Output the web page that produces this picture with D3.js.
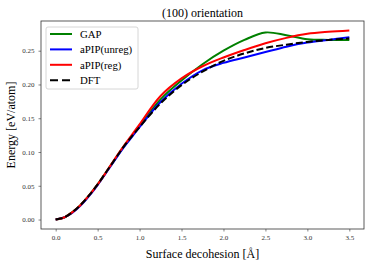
<!DOCTYPE html>
<html>
<head>
<meta charset="utf-8">
<script src="https://cdn.jsdelivr.net/npm/d3@7"></script>
<style>
  body { margin: 0; background: #fff; }
  svg text { font-family: "Liberation Serif", "DejaVu Serif", serif; }
</style>
</head>
<body>
<div id="chart"></div>
<script>
// Datos (separación en Å, energía en eV/atom)
const xs = [0, 0.1, 0.2, 0.3, 0.4, 0.5, 0.6, 0.7, 0.8, 0.9, 1.0,
            1.25, 1.5, 1.75, 2.0, 2.25, 2.5, 2.75, 3.0, 3.25, 3.5];
const gap =      [0, 0.003, 0.011, 0.022, 0.036, 0.052, 0.070, 0.088, 0.106, 0.122, 0.139,
                  0.178, 0.206, 0.230, 0.250, 0.266, 0.277, 0.273, 0.267, 0.266, 0.266];
const apipUnreg = [0, 0.003, 0.010, 0.021, 0.035, 0.051, 0.069, 0.087, 0.105, 0.121, 0.137,
                  0.174, 0.201, 0.221, 0.232, 0.240, 0.248, 0.256, 0.262, 0.266, 0.270];
const apipReg =  [0, 0.003, 0.011, 0.022, 0.036, 0.052, 0.070, 0.089, 0.107, 0.124, 0.141,
                  0.183, 0.209, 0.227, 0.240, 0.251, 0.261, 0.269, 0.275, 0.278, 0.280];
const dft =      [0, 0.003, 0.011, 0.022, 0.036, 0.052, 0.070, 0.088, 0.106, 0.122, 0.137,
                  0.172, 0.199, 0.219, 0.235, 0.246, 0.254, 0.259, 0.263, 0.266, 0.268];
const xTicks = [0, 0.5, 1.0, 1.5, 2.0, 2.5, 3.0, 3.5];
const yTicks = [0, 0.05, 0.10, 0.15, 0.20, 0.25];

const series = [
  { name: "GAP", values: gap, color: "green", dash: null },
  { name: "aPIP(unreg)", values: apipUnreg, color: "blue", dash: null },
  { name: "aPIP(reg)", values: apipReg, color: "red", dash: null },
  { name: "DFT", values: dft, color: "black", dash: "7,3" }
];

const width = 374, height = 267;
const margin = { top: 21, right: 10, bottom: 38, left: 41 };

const svg = d3.select("#chart").append("svg")
  .attr("width", width).attr("height", height);

const x = d3.scaleLinear().domain([-0.175, 3.675])
  .range([margin.left, width - margin.right]);
const y = d3.scaleLinear().domain([-0.014, 0.294])
  .range([height - margin.bottom, margin.top]);

// Ejes
const xAxis = svg.append("g")
  .attr("transform", `translate(0,${height - margin.bottom})`)
  .call(d3.axisBottom(x).tickValues(xTicks).tickFormat(d3.format(".1f")).tickSize(2.5).tickPadding(4));
const yAxis = svg.append("g")
  .attr("transform", `translate(${margin.left},0)`)
  .call(d3.axisLeft(y).tickValues(yTicks).tickFormat(d3.format(".2f")).tickSize(2.5).tickPadding(4));
[xAxis, yAxis].forEach(g => {
  g.select(".domain").remove();
  g.selectAll("line").attr("stroke", "#333").attr("stroke-width", 0.6);
  g.selectAll("text").attr("font-size", 7).attr("fill", "#333")
    .style("font-family", "'Liberation Serif', serif");
});

// Curvas
const line = d3.line()
  .x((d, i) => x(xs[i]))
  .y(d => y(d))
  .curve(d3.curveCatmullRom.alpha(0.5));

series.forEach(s => {
  svg.append("path")
    .attr("d", line(s.values))
    .attr("fill", "none")
    .attr("stroke", s.color)
    .attr("stroke-width", 2)
    .attr("stroke-dasharray", s.dash);
});

// Marco
svg.append("rect")
  .attr("x", margin.left).attr("y", margin.top)
  .attr("width", width - margin.left - margin.right)
  .attr("height", height - margin.top - margin.bottom)
  .attr("fill", "none").attr("stroke", "#333").attr("stroke-width", 0.8);

// Leyenda
const legend = svg.append("g");
legend.append("rect")
  .attr("x", 46).attr("y", 27).attr("width", 92).attr("height", 62)
  .attr("rx", 2).attr("fill", "white").attr("fill-opacity", 0.8)
  .attr("stroke", "#ccc").attr("stroke-width", 0.8);
series.forEach((s, i) => {
  const ly = 34 + i * 15.4;
  legend.append("line")
    .attr("x1", 50).attr("x2", 72).attr("y1", ly).attr("y2", ly)
    .attr("stroke", s.color).attr("stroke-width", 2)
    .attr("stroke-dasharray", s.dash ? "8,4" : null);
  legend.append("text")
    .attr("x", 80).attr("y", ly).attr("dy", "0.35em")
    .attr("font-size", 10.8).text(s.name);
});

// Títulos
svg.append("text")
  .attr("x", (margin.left + width - margin.right) / 2).attr("y", 17)
  .attr("text-anchor", "middle").attr("font-size", 12)
  .text("(100) orientation");
svg.append("text")
  .attr("x", (margin.left + width - margin.right) / 2).attr("y", 258)
  .attr("text-anchor", "middle").attr("font-size", 12)
  .text("Surface decohesion [Å]");
svg.append("text")
  .attr("transform", `translate(15,${(margin.top + height - margin.bottom) / 2}) rotate(-90)`)
  .attr("text-anchor", "middle").attr("font-size", 12)
  .text("Energy [eV/atom]");
</script>
</body>
</html>
